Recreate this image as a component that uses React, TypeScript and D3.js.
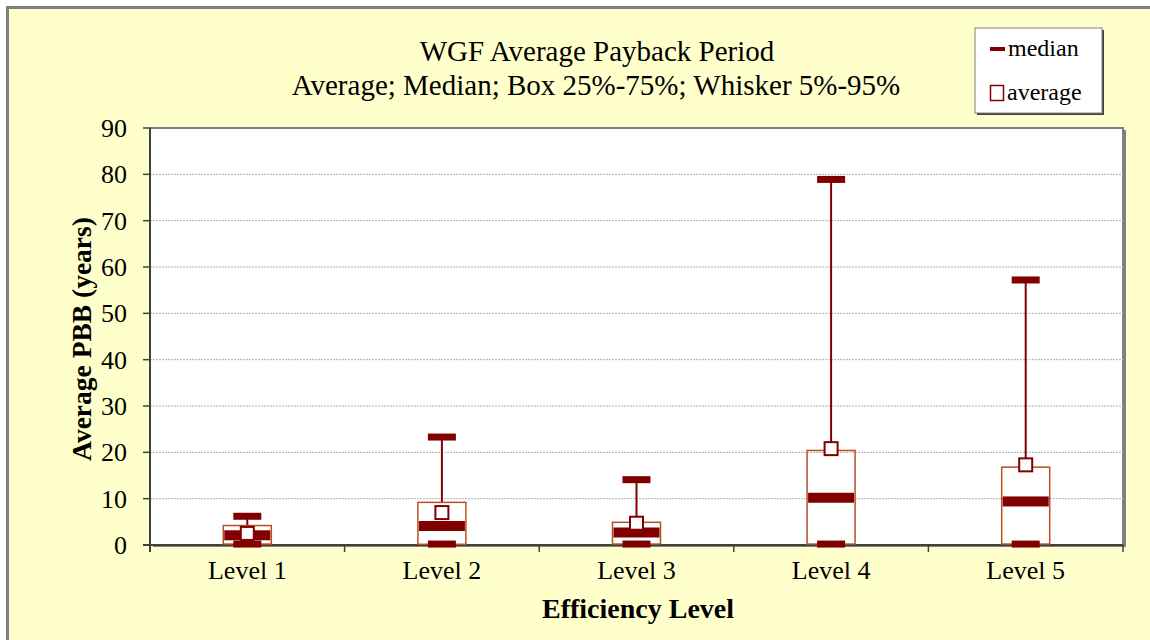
import React from "react";
import * as d3 from "d3";

const categories = ["Level 1", "Level 2", "Level 3", "Level 4", "Level 5"];
const whiskerLow = [0.2, 0.2, 0.2, 0.2, 0.2];
const boxLow = [0.2, 0.15, 0.2, 0.2, 0.2];
const medianVals = [2.1, 4.1, 2.7, 10.2, 9.4];
const boxHigh = [4.2, 9.2, 4.9, 20.4, 16.8];
const whiskerHigh = [6.2, 23.3, 14.1, 78.9, 57.2];
const averageVals = [2.5, 7.0, 4.7, 20.8, 17.3];
const yTicks = [0, 10, 20, 30, 40, 50, 60, 70, 80, 90];

const W = 1150, H = 640;
const plot = { left: 150, top: 128, right: 1123, bottom: 545 };
const DARK = "#800000";
const BOXC = "#b8501f";
const FONT = "'Liberation Serif', 'Times New Roman', serif";

export default function App() {
  const x = d3.scaleBand<string>().domain(categories).range([plot.left, plot.right]);
  const y = d3.scaleLinear().domain([0, 90]).range([plot.bottom, plot.top]);
  const bw = x.bandwidth();
  const boxW = 48;
  const capW = 28;
  const sq = 13;

  return (
    <svg width={W} height={H} style={{ position: "absolute", left: 0, top: 0, fontFamily: FONT }}>
      <rect x={0} y={0} width={W} height={H} fill="#ffffff" />
      <rect x={7.5} y={7.5} width={W + 10} height={H + 10} fill="#ffffcc" stroke="#808080" strokeWidth={3} />
      {/* title */}
      <text x={597} y={61} textAnchor="middle" fontSize={29} fill="#000">WGF Average Payback Period</text>
      <text x={596} y={95} textAnchor="middle" fontSize={29} fill="#000">Average; Median; Box 25%-75%; Whisker 5%-95%</text>
      {/* legend */}
      <rect x={977} y={30} width={127} height={85} fill="#404040" />
      <rect x={975} y={28} width={127} height={85} fill="#fff" stroke="#808080" strokeWidth={1} />
      <rect x={990} y={47} width={15} height={4} fill={DARK} />
      <text x={1008} y={56} fontSize={24} fill="#000">median</text>
      <rect x={990.5} y={85.5} width={13} height={15} fill="#fff" stroke={DARK} strokeWidth={1.5} />
      <text x={1007} y={100} fontSize={24} fill="#000">average</text>
      {/* plot area */}
      <rect x={plot.left + 3} y={plot.top + 2} width={plot.right - plot.left} height={plot.bottom - plot.top} fill="#808080" />
      <rect x={plot.left} y={plot.top} width={plot.right - plot.left} height={plot.bottom - plot.top} fill="#fff" stroke="#808080" strokeWidth={2} />
      {yTicks.filter((t) => t > 0 && t < 90).map((t) => (
        <line key={"g" + t} x1={plot.left} x2={plot.right} y1={y(t)} y2={y(t)} stroke="#b0b0b0" strokeWidth={1} strokeDasharray="2,1" />
      ))}
      {/* axes */}
      <line x1={plot.left} x2={plot.left} y1={plot.top} y2={plot.bottom + 7} stroke="#404040" strokeWidth={2} />
      <line x1={plot.left - 7} x2={plot.right} y1={plot.bottom} y2={plot.bottom} stroke="#404040" strokeWidth={2} />
      {yTicks.map((t) => (
        <g key={"t" + t}>
          <line x1={plot.left - 7} x2={plot.left} y1={y(t)} y2={y(t)} stroke="#404040" strokeWidth={1.5} />
          <text x={127} y={y(t) + 9} textAnchor="end" fontSize={26} fill="#000">{t}</text>
        </g>
      ))}
      {categories.map((c, i) => (
        <line key={"xt" + i} x1={(x(c) as number) + bw} x2={(x(c) as number) + bw} y1={plot.bottom} y2={plot.bottom + 7} stroke="#404040" strokeWidth={1.5} />
      ))}
      {categories.map((c) => (
        <text key={"xl" + c} x={(x(c) as number) + bw / 2} y={579} textAnchor="middle" fontSize={26} fill="#000">{c}</text>
      ))}
      <text x={638} y={618} textAnchor="middle" fontSize={28} fontWeight="bold" fill="#000">Efficiency Level</text>
      <text transform={`translate(91,339) rotate(-90)`} textAnchor="middle" fontSize={27.5} fontWeight="bold" fill="#000">Average PBB (years)</text>
      {/* boxes */}
      {categories.map((c, i) => {
        const cx = (x(c) as number) + bw / 2;
        return (
          <g key={"b" + c}>
            <line x1={cx} x2={cx} y1={y(boxHigh[i])} y2={y(whiskerHigh[i])} stroke={DARK} strokeWidth={2} />
            <rect x={cx - boxW / 2} y={y(boxHigh[i])} width={boxW} height={y(boxLow[i]) - y(boxHigh[i])} fill="none" stroke={BOXC} strokeWidth={1.5} />
            <rect x={cx - capW / 2} y={y(whiskerHigh[i]) - 3.5} width={capW} height={7} fill={DARK} />
            <rect x={cx - capW / 2} y={y(whiskerLow[i]) - 3.5} width={capW} height={7} fill={DARK} />
            <rect x={cx - boxW / 2 + 1} y={y(medianVals[i]) - 5} width={boxW - 2} height={10} fill={DARK} />
            <rect x={cx - sq / 2} y={y(averageVals[i]) - sq / 2} width={sq} height={sq} fill="#fff" stroke={DARK} strokeWidth={2} />
          </g>
        );
      })}
    </svg>
  );
}
